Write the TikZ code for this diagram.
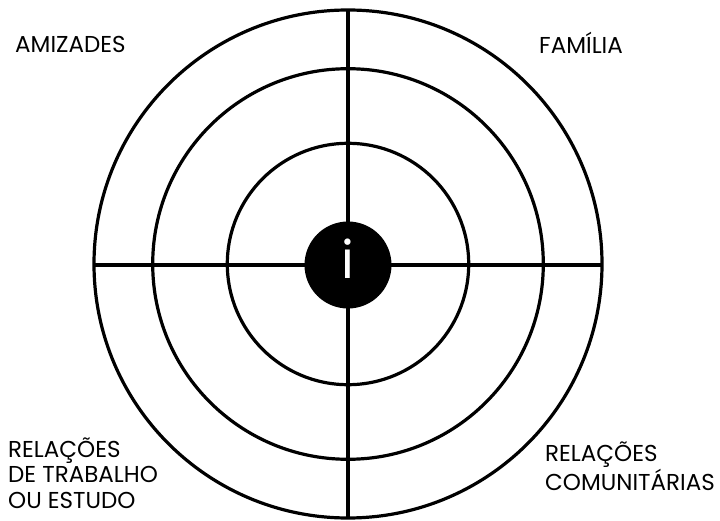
\documentclass[tikz,border=0pt]{standalone}
\usepackage{fontspec}
\setmainfont{Poppins}
\begin{document}
\begin{tikzpicture}[x=1pt,y=-1pt,
  ring/.style={draw=black,line width=3.2pt},
  lbl/.style={anchor=base west,inner sep=0pt,font=\fontsize{23}{25.5}\selectfont,align=left},
  core/.style={circle,fill=black,minimum size=87pt,inner sep=0pt}]
\useasboundingbox (0,0) rectangle (720,521);
\coordinate (c) at (348,264);
\draw[ring] (c) circle[radius=254];
\draw[ring] (c) circle[radius=195.3];
\draw[ring] (c) circle[radius=120.7];
\coordinate (top) at (348,10);
\coordinate (bot) at (348,518);
\coordinate (lft) at (94,265);
\coordinate (rgt) at (602,265);
\draw[ring] (top) -- (bot);
\draw[ring] (lft) -- (rgt);
\node[core] (i) at (348,265) {};
\node[text=white,font=\fontsize{52}{52}\selectfont,anchor=base,inner sep=0pt] (itxt) at (348,279) {i};
\node[lbl] (amiz) at (15,53) {AMIZADES};
\node[lbl] (fam) at (539,54) {FAMÍLIA};
\node[lbl] (trab) at (8,508) {RELAÇÕES\\DE TRABALHO\\OU ESTUDO};
\node[lbl] (com) at (545,490) {RELAÇÕES\\COMUNITÁRIAS};
\end{tikzpicture}
\end{document}
